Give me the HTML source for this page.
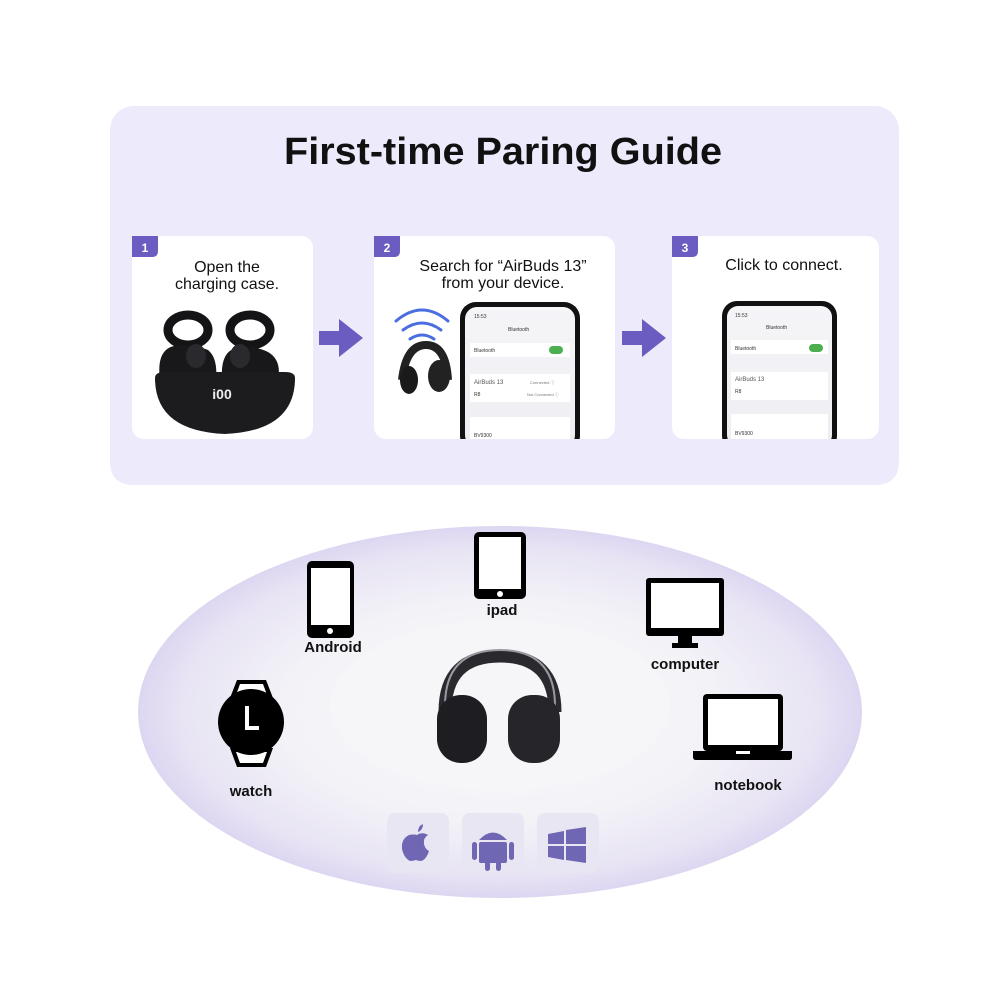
<!DOCTYPE html>
<html><head><meta charset="utf-8"><style>
html,body{margin:0;padding:0;background:#fff;width:1000px;height:1000px;overflow:hidden}
svg text{font-family:"Liberation Sans",sans-serif}
</style></head><body>
<svg width="1000" height="1000" viewBox="0 0 1000 1000" xmlns="http://www.w3.org/2000/svg">
<defs>
<radialGradient id="eg" cx="0.5" cy="0.5" r="0.5">
<stop offset="0" stop-color="#fafafc"/><stop offset="0.6" stop-color="#f3f2f7"/><stop offset="0.88" stop-color="#e8e4f4"/><stop offset="1" stop-color="#ddd6f1"/>
</radialGradient>
<linearGradient id="pg" x1="0" y1="0" x2="0" y2="1"><stop offset="0" stop-color="#f5f5f8"/><stop offset="1" stop-color="#eeeef2"/></linearGradient>
</defs>
<rect x="110" y="106" width="789" height="379" rx="24" fill="#edebfb"/>
<text x="284" y="164" textLength="438" lengthAdjust="spacingAndGlyphs" font-size="38" font-weight="bold" fill="#111">First-time Paring Guide</text>
<rect x="132" y="236" width="181" height="203" rx="12" fill="#fff"/>
<rect x="374" y="236" width="241" height="203" rx="12" fill="#fff"/>
<rect x="672" y="236" width="207" height="203" rx="12" fill="#fff"/>
<path d="M132 236h26v15q0 6-6 6h-20z" fill="#6a5cc0"/>
<path d="M374 236h26v15q0 6-6 6h-20z" fill="#6a5cc0"/>
<path d="M672 236h26v15q0 6-6 6h-20z" fill="#6a5cc0"/>
<text x="145" y="252" text-anchor="middle" font-size="12" font-weight="bold" fill="#fff">1</text>
<text x="387" y="252" text-anchor="middle" font-size="12" font-weight="bold" fill="#fff">2</text>
<text x="685" y="252" text-anchor="middle" font-size="12" font-weight="bold" fill="#fff">3</text>
<text x="227" y="272" text-anchor="middle" font-size="16" fill="#111">Open the</text>
<text x="227" y="289" text-anchor="middle" font-size="16" fill="#111">charging case.</text>
<text x="503" y="271" text-anchor="middle" font-size="16" fill="#111">Search for “AirBuds 13”</text>
<text x="503" y="288" text-anchor="middle" font-size="16" fill="#111">from your device.</text>
<text x="784" y="270" text-anchor="middle" font-size="16" fill="#111">Click to connect.</text>
<path d="M319 331h20v-12l24 19-24 19v-12h-20z" fill="#6a5cc0"/>
<path d="M622 331h20v-12l24 19-24 19v-12h-20z" fill="#6a5cc0"/>
<!-- case -->
<ellipse cx="188" cy="330" rx="20" ry="15" fill="none" stroke="#141416" stroke-width="9"/>
<ellipse cx="250" cy="330" rx="20" ry="15" fill="none" stroke="#141416" stroke-width="9"/>
<path d="M160 380q-4-30 14-34q18-3 34 4q10 8 8 30z" fill="#18181a"/>
<path d="M222 380q-2-28 14-32q18-3 32 4q14 8 10 28z" fill="#18181a"/>
<ellipse cx="196" cy="356" rx="10" ry="12" fill="#2a2a2e"/>
<ellipse cx="240" cy="356" rx="10" ry="12" fill="#2a2a2e"/>
<path d="M155 378q0-6 10-6h120q10 0 10 6q0 53-70 56q-70-3-70-56z" fill="#1c1c1e"/>
<text x="222" y="399" text-anchor="middle" font-size="14" font-weight="bold" fill="#eee" font-family="Liberation Mono">i00</text>
<g fill="none" stroke="#4a6ee0" stroke-width="3" stroke-linecap="round">
<path d="M396 321q26-22 52 0"/><path d="M403 330q19-14 38 0"/><path d="M410 339q12-8 24 0"/>
</g>
<path d="M402 380q4-35 24-35q20 0 22 35" fill="none" stroke="#222" stroke-width="8"/>
<ellipse cx="409" cy="380" rx="9" ry="14" fill="#1a1a1a"/><ellipse cx="439" cy="376" rx="11" ry="16" fill="#222"/>
<rect x="460" y="302" width="120" height="150" rx="16" fill="#111"/>
<rect x="465" y="307" width="110" height="140" rx="12" fill="url(#pg)"/>
<text x="474" y="318" font-size="5" fill="#333">15:53</text>
<text x="508" y="331" font-size="5" fill="#333">Bluetooth</text>
<rect x="470" y="343" width="100" height="14" fill="#fff"/>
<text x="474" y="352" font-size="5" fill="#333">Bluetooth</text>
<rect x="549" y="346" width="14" height="8" rx="4" fill="#4cb050"/>
<rect x="470" y="374" width="100" height="28" fill="#fff"/>
<text x="474" y="384" font-size="6" fill="#555">AirBuds 13</text>
<text x="474" y="396" font-size="5" fill="#333">R8</text>
<text x="530" y="384" font-size="4" fill="#777">Connected ⓘ</text>
<text x="527" y="396" font-size="4" fill="#777">Not Connected ⓘ</text>
<rect x="470" y="417" width="100" height="30" fill="#fff"/>
<text x="474" y="437" font-size="5" fill="#333">BV9300</text>
<rect x="722" y="301" width="115" height="150" rx="15" fill="#111"/>
<rect x="727" y="306" width="105" height="140" rx="11" fill="url(#pg)"/>
<text x="735" y="317" font-size="5" fill="#333">15:53</text>
<text x="766" y="329" font-size="5" fill="#333">Bluetooth</text>
<rect x="731" y="340" width="97" height="14" fill="#fff"/>
<text x="735" y="350" font-size="5" fill="#333">Bluetooth</text>
<rect x="809" y="344" width="14" height="8" rx="4" fill="#4cb050"/>
<rect x="731" y="372" width="97" height="28" fill="#fff"/>
<text x="735" y="381" font-size="6" fill="#555">AirBuds 13</text>
<text x="735" y="393" font-size="5" fill="#333">R8</text>
<rect x="731" y="414" width="97" height="32" fill="#fff"/>
<text x="735" y="435" font-size="5" fill="#333">BV9300</text>
<path d="M110 439h789v22q0 24-24 24h-741q-24 0-24-24z" fill="#edebfb"/>
<ellipse cx="500" cy="712" rx="362" ry="186" fill="url(#eg)"/>
<ellipse cx="500" cy="705" rx="170" ry="85" fill="#f6f6f9"/>
<rect x="307" y="561" width="47" height="77" rx="5" fill="#000"/>
<rect x="311" y="568" width="39" height="57" fill="#fff"/>
<circle cx="330" cy="631" r="3" fill="#fff"/>
<text x="333" y="652" text-anchor="middle" font-size="15" font-weight="bold" fill="#111">Android</text>
<rect x="474" y="532" width="52" height="67" rx="5" fill="#000"/>
<rect x="479" y="537" width="42" height="52" fill="#fff"/>
<circle cx="500" cy="594" r="3" fill="#fff"/>
<text x="502" y="615" text-anchor="middle" font-size="15" font-weight="bold" fill="#111">ipad</text>
<rect x="646" y="578" width="78" height="58" rx="3" fill="#000"/>
<rect x="651" y="583" width="68" height="45" fill="#fff"/>
<path d="M678 636h14v7h6v5h-26v-5h6z" fill="#000"/>
<text x="685" y="669" text-anchor="middle" font-size="15" font-weight="bold" fill="#111">computer</text>
<rect x="703" y="694" width="80" height="57" rx="4" fill="#000"/>
<rect x="708" y="699" width="70" height="46" fill="#fff"/>
<path d="M693 751h99v6q0 3-3 3h-93q-3 0-3-3z" fill="#000"/>
<rect x="736" y="751" width="14" height="3" fill="#fff"/>
<text x="748" y="790" text-anchor="middle" font-size="15" font-weight="bold" fill="#111">notebook</text>
<path d="M237 680h29l7 18h-43z M230 748h43l-7 19h-29z" fill="#000"/>
<path d="M240 684h23l4 11h-31z M236 752h31l-4 11h-23z" fill="#fff"/>
<circle cx="251" cy="722" r="33" fill="#000"/>
<path d="M247 706v22h12" fill="none" stroke="#fff" stroke-width="4"/>
<text x="251" y="796" text-anchor="middle" font-size="15" font-weight="bold" fill="#111">watch</text>
<path d="M445 712q0-56 55-56q55 0 55 56" fill="none" stroke="#2a2a2e" stroke-width="13"/>
<path d="M445 712q0-56 55-56q55 0 55 56" fill="none" stroke="#9a9aa2" stroke-width="2" transform="translate(0,-6)"/>
<rect x="437" y="695" width="50" height="68" rx="24" fill="#1e1e22"/>
<rect x="508" y="695" width="52" height="68" rx="24" fill="#26262a"/>
<rect x="387" y="813" width="62" height="60" rx="8" fill="#e8e6f2"/>
<rect x="462" y="813" width="62" height="60" rx="8" fill="#e8e6f2"/>
<rect x="537" y="813" width="62" height="60" rx="8" fill="#e8e6f2"/>
<path d="M418 834q6-2 10 1q-5 3-4 9q1 5 5 7q-3 9-8 10q-3 0-5-1q-3 1-6 1q-6-3-8-12q-1-10 7-14q4-1 9 0z M418 832q0-6 5-8q0 6-5 8z" fill="#6f66b4"/>
<g fill="#6f66b4">
<path d="M479 840q14-15 28 0z"/>
<rect x="479" y="842" width="28" height="21" rx="2"/>
<rect x="472" y="842" width="5" height="18" rx="2.5"/><rect x="509" y="842" width="5" height="18" rx="2.5"/>
<rect x="485" y="860" width="5" height="11" rx="2.5"/><rect x="496" y="860" width="5" height="11" rx="2.5"/>
<path d="M548 834l16-3v13h-16z M566 830l20-3v17h-20z M548 846h16v14l-16-3z M566 846h20v17l-20-3z"/>
</g>
</svg>
</body></html>
